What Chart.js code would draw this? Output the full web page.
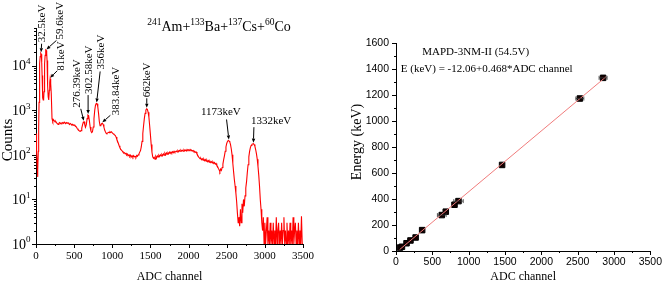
<!DOCTYPE html>
<html>
<head>
<meta charset="utf-8">
<script src="https://cdn.jsdelivr.net/npm/chart.js@4"></script>
<style>
  html, body { margin: 0; padding: 0; background: #fff; }
  #wrap { position: relative; width: 667px; height: 283px; }
  .pane { position: absolute; top: 0; height: 283px; }
</style>
</head>
<body>
<div id="wrap">
  <div class="pane" style="left:0;width:335px"><canvas id="spec"></canvas></div>
  <div class="pane" style="left:335px;width:332px"><canvas id="cal"></canvas></div>
</div>
<script>
// ---- spectrum (left) ----
// channels 0..200, every 5 channels
const lowCounts = [300, 220, 120, 60, 32, 45, 120, 400, 1500, 5000,
  11000, 16000, 18500, 19000, 18000, 12000, 6000, 3000, 1900, 1700,
  1750, 2600, 5500, 11000, 17000, 21000, 22500, 22000, 19000, 13000,
  7000, 3500, 2000, 1700, 1800, 2800, 4200, 5100, 5000, 4000, 2400];
// channels 210..3500, every 10 channels
const counts = [
  650, 560, 610, 580, 545, 560, 520, 500, 480, 510,
  530, 500, 520, 505, 530, 510, 540, 520, 500, 530,
  510, 525, 500, 480, 505, 490, 470, 485, 460, 470,
  450, 440, 420, 390, 370, 360, 340, 335, 350, 400,
  470, 540, 550, 470, 420, 480, 650, 780, 760, 580,
  420, 340, 315, 330, 420, 650, 1000, 1300, 1420, 1400,
  1200, 850, 560, 450, 460, 500, 510, 480, 420, 360,
  330, 305, 300, 310, 320, 315, 330, 320, 330, 310,
  300, 290, 280, 270, 250, 220, 200, 180, 160, 145,
  135, 128, 122, 115, 110, 112, 105, 108, 100, 104,
  96, 100, 92, 98, 90, 95, 88, 96, 90, 92,
  88, 97, 93, 100, 105, 115, 125, 150, 200, 300,
  450, 650, 850, 1000, 1080, 1050, 900, 700, 450, 280,
  170, 115, 90, 84, 88, 80, 92, 85, 95, 90,
  98, 92, 100, 94, 102, 96, 105, 98, 108, 100,
  110, 104, 112, 106, 115, 108, 116, 110, 118, 112,
  120, 114, 118, 122, 116, 124, 118, 126, 120, 128,
  122, 126, 120, 130, 124, 128, 122, 132, 126, 130,
  124, 132, 126, 128, 122, 125, 118, 120, 114, 116,
  105, 98, 90, 86, 82, 84, 78, 82, 76, 80,
  74, 78, 72, 76, 70, 74, 68, 72, 67, 70,
  66, 69, 64, 67, 62, 64, 58, 55, 50, 46,
  42, 48, 45, 52, 62, 78, 95, 120, 150, 180,
  200, 210, 205, 195, 170, 135, 100, 65, 42, 28,
  20, 14, 9, 5, 3, 4, 2.5, 6, 3, 8,
  5, 10, 7, 12, 18, 25, 40, 60, 90, 120,
  145, 162, 172, 176, 178, 170, 155, 130, 105, 80,
  55, 35, 20, 10, 6, 3, 2, 4, 1, 3,
  1, 2, 4, 1, 2, 1, 3, 1, 2, 1,
  3, 1, 2, 1, 4, 1, 2, 3, 1, 2,
  1, 3, 1, 2, 4, 1, 2, 1, 3, 1,
  2, 1, 3, 1, 2, 1, 4, 1, 2, 3,
  1, 2, 1, 3, 1, 2, 1, 4.2, 1, 1];

const peakLabels = ['32.5keV', '59.6keV', '81keV', '276.39keV', '302.58keV',
  '356keV', '383.84keV', '662keV', '1173keV', '1332keV'];
const peakChannels = [67, 137, 187, 626, 683, 795, 870, 1452, 2528, 2850];
const peakCounts = [19000, 22000, 5100, 550, 780, 1420, 510, 1080, 210, 178];

// ---- calibration (right) ----
const calChannels = [55, 82, 145, 199, 270, 360, 630, 685, 805, 860, 1460, 2530, 2850];
const calEnergies = [26.3, 32.5, 59.6, 81, 104, 160.6, 276.4, 302.6, 356, 383.8, 662, 1173, 1332];
const calErrors = [0, 0, 0, 0, 0, 0, 60, 0, 0, 65, 0, 55, 55];
const fitChannels = [50, 2890];
const fitEnergies = [11, 1340];

const SERIF = '"Liberation Serif", "Times New Roman", serif';
const SANS = '"Liberation Sans", Arial, sans-serif';

// label layout: tail/text offsets from arrow tip (px); rot = vertical text
const labelLayout = [
  { tail: [0.5, -8.5], text: [0.5, -10], rot: true },
  { tail: [10, -9], text: [14, -10], rot: true },
  { tail: [7, -7], text: [10.5, -7], rot: true },
  { tail: [-3, -12], text: [-6.5, -13], rot: true },
  { tail: [0, -19], text: [0.7, -20], rot: true },
  { tail: [3.5, -31], text: [4.5, -33], rot: true },
  { tail: [8, -7], text: [14, -7], rot: true },
  { tail: [0, -9.5], text: [0.8, -10.5], rot: true },
  { tail: [-2.3, -20], text: [-8, -27], rot: false },
  { tail: [0.5, -15.5], text: [17.7, -22], rot: false }
];

const spectrum = lowCounts.map((c, i) => ({ x: i * 5, y: c }))
  .concat(counts.map((c, i) => ({ x: 210 + i * 10, y: c })));

function seg(ctx, x1, y1, x2, y2) {
  ctx.beginPath(); ctx.moveTo(x1, y1); ctx.lineTo(x2, y2); ctx.stroke();
}

function arrow(ctx, x1, y1, x2, y2) {
  const ang = Math.atan2(y2 - y1, x2 - x1);
  const L = 4, W = 1.7;
  const bx = x2 - L * Math.cos(ang), by = y2 - L * Math.sin(ang);
  seg(ctx, x1, y1, bx, by);
  ctx.beginPath();
  ctx.moveTo(x2, y2);
  ctx.lineTo(bx + W * Math.sin(ang), by - W * Math.cos(ang));
  ctx.lineTo(bx - W * Math.sin(ang), by + W * Math.cos(ang));
  ctx.closePath(); ctx.fill();
}

const specDecor = {
  id: 'specDecor',
  afterDraw(chart) {
    const { ctx, chartArea: a, scales: { x, y } } = chart;
    ctx.save();
    ctx.strokeStyle = '#000'; ctx.fillStyle = '#000'; ctx.lineWidth = 1;
    // x ticks
    for (let v = 0; v <= 3500; v += 250) {
      const px = Math.round(x.getPixelForValue(v)) + 0.5;
      seg(ctx, px, a.bottom, px, a.bottom + (v % 500 === 0 ? 4 : 2));
    }
    // y ticks, log
    for (let d = 0; d <= 4; d++) {
      for (let m = 1; m <= 9; m++) {
        const v = m * Math.pow(10, d);
        if (v > y.max) break;
        const py = Math.round(y.getPixelForValue(v)) + 0.5;
        seg(ctx, a.left, py, a.left - (m === 1 ? 4 : 2), py);
      }
      const py = y.getPixelForValue(Math.pow(10, d));
      ctx.textBaseline = 'middle';
      ctx.textAlign = 'right';
      ctx.font = '14px ' + SERIF;
      ctx.fillText('10', a.left - 10, py + 1);
      ctx.textAlign = 'left';
      ctx.font = '9px ' + SERIF;
      ctx.fillText(String(d), a.left - 10, py - 4);
    }
    // axis titles
    ctx.font = '12px ' + SERIF;
    ctx.textAlign = 'center'; ctx.textBaseline = 'middle';
    ctx.fillText('ADC channel', (a.left + a.right) / 2, 277);
    ctx.save();
    ctx.font = '15px ' + SERIF;
    ctx.translate(8, (a.top + a.bottom) / 2 + 4);
    ctx.rotate(-Math.PI / 2);
    ctx.fillText('Counts', 0, 0);
    ctx.restore();
    // title with superscripts
    const parts = [['241', 1], ['Am+', 0], ['133', 1], ['Ba+', 0], ['137', 1], ['Cs+', 0], ['60', 1], ['Co', 0]];
    const fN = '14px ' + SERIF, fS = '9.5px ' + SERIF;
    let w = 0;
    parts.forEach(p => { ctx.font = p[1] ? fS : fN; w += ctx.measureText(p[0]).width; });
    let tx = 219 - w / 2;
    ctx.textAlign = 'left'; ctx.textBaseline = 'alphabetic';
    parts.forEach(p => {
      ctx.font = p[1] ? fS : fN;
      ctx.fillText(p[0], tx, p[1] ? 25 : 30.5);
      tx += ctx.measureText(p[0]).width;
    });
    // peak labels
    ctx.font = '11px ' + SERIF;
    peakLabels.forEach((lab, i) => {
      const tipX = x.getPixelForValue(peakChannels[i]);
      const tipY = y.getPixelForValue(peakCounts[i]) - 1;
      const L = labelLayout[i];
      arrow(ctx, tipX + L.tail[0], tipY + L.tail[1], tipX, tipY);
      if (L.rot) {
        ctx.save();
        ctx.translate(tipX + L.text[0], tipY + L.text[1]);
        ctx.rotate(-Math.PI / 2);
        ctx.textAlign = 'left'; ctx.textBaseline = 'middle';
        ctx.fillText(lab, 0, 0);
        ctx.restore();
      } else {
        ctx.textAlign = 'center'; ctx.textBaseline = 'middle';
        ctx.fillText(lab, tipX + L.text[0], tipY + L.text[1]);
      }
    });
    ctx.restore();
  }
};

new Chart(document.getElementById('spec'), {
  type: 'line',
  data: {
    datasets: [{
      data: spectrum,
      borderColor: '#ff0000',
      borderWidth: 1.1,
      pointRadius: 0,
      tension: 0
    }]
  },
  options: {
    responsive: true,
    maintainAspectRatio: false,
    animation: false,
    devicePixelRatio: 1,
    layout: { padding: { top: 28, right: 32, left: 0, bottom: 0 } },
    plugins: { legend: { display: false }, tooltip: { enabled: false } },
    scales: {
      x: {
        type: 'linear', min: 0, max: 3500,
        ticks: { stepSize: 500, color: '#000', padding: 6, maxRotation: 0, autoSkip: false,
          font: { family: SERIF, size: 11 }, callback: v => String(v) },
        grid: { display: false, drawTicks: false },
        border: { display: true, color: '#000', width: 1 },
        afterFit(s) { s.height = 39; }
      },
      y: {
        type: 'logarithmic', min: 1, max: 70000,
        ticks: { display: false },
        grid: { display: false, drawTicks: false },
        border: { display: true, color: '#000', width: 1 },
        afterFit(s) { s.width = 36; }
      }
    }
  },
  plugins: [specDecor]
});

const calDecor = {
  id: 'calDecor',
  afterDatasetsDraw(chart) {
    const { ctx, chartArea: a, scales: { x, y } } = chart;
    ctx.save();
    ctx.strokeStyle = '#000'; ctx.fillStyle = '#000'; ctx.lineWidth = 1;
    for (let v = 0; v <= 3500; v += 250) {
      const px = Math.round(x.getPixelForValue(v)) + 0.5;
      seg(ctx, px, a.bottom, px, a.bottom + (v % 500 === 0 ? 4 : 2));
    }
    for (let v = 0; v <= 1600; v += 100) {
      const py = Math.round(y.getPixelForValue(v)) + 0.5;
      seg(ctx, a.left, py, a.left - (v % 200 === 0 ? 4 : 2), py);
    }
    // horizontal error bars
    ctx.strokeStyle = '#333'; ctx.lineWidth = 0.8;
    calChannels.forEach((c, i) => {
      if (!calErrors[i]) return;
      const py = y.getPixelForValue(calEnergies[i]);
      const x1 = x.getPixelForValue(c - calErrors[i]);
      const x2 = x.getPixelForValue(c + calErrors[i]);
      seg(ctx, x1, py, x2, py);
      seg(ctx, x1, py - 2, x1, py + 2);
      seg(ctx, x2, py - 2, x2, py + 2);
    });
    ctx.fillStyle = '#000';
    ctx.font = '12px ' + SERIF;
    ctx.textAlign = 'center'; ctx.textBaseline = 'middle';
    ctx.fillText('ADC channel', (a.left + a.right) / 2, 277);
    ctx.save();
    ctx.font = '14px ' + SERIF;
    ctx.translate(22, (a.top + a.bottom) / 2 - 5);
    ctx.rotate(-Math.PI / 2);
    ctx.fillText('Energy (keV)', 0, 0);
    ctx.restore();
    ctx.font = '11px ' + SERIF;
    ctx.fillText('MAPD-3NM-II (54.5V)', 140.7, 52);
    ctx.fillText('E (keV) = -12.06+0.468*ADC channel', 151.7, 69);
    ctx.restore();
  }
};

new Chart(document.getElementById('cal'), {
  type: 'scatter',
  data: {
    datasets: [{
      type: 'line',
      data: fitChannels.map((c, i) => ({ x: c, y: fitEnergies[i] })),
      borderColor: '#f07c7c',
      borderWidth: 1,
      pointRadius: 0,
      order: 0
    }, {
      data: calChannels.map((c, i) => ({ x: c, y: calEnergies[i] })),
      pointStyle: 'rect',
      pointRadius: 3.9,
      backgroundColor: '#140000',
      borderColor: '#000',
      borderWidth: 1,
      order: 1
    }]
  },
  options: {
    responsive: true,
    maintainAspectRatio: false,
    animation: false,
    devicePixelRatio: 1,
    layout: { padding: { top: 43, right: 12, left: 0, bottom: 0 } },
    plugins: { legend: { display: false }, tooltip: { enabled: false } },
    scales: {
      x: {
        type: 'linear', min: 0, max: 3500,
        ticks: { stepSize: 500, color: '#000', padding: 5, maxRotation: 0, autoSkip: false,
          font: { family: SANS, size: 10.5 }, callback: v => String(v) },
        grid: { display: false, drawTicks: false },
        border: { display: true, color: '#000', width: 1 },
        afterFit(s) { s.height = 32; }
      },
      y: {
        type: 'linear', min: 0, max: 1600,
        ticks: { stepSize: 200, color: '#000', padding: 7,
          font: { family: SANS, size: 10.5 }, callback: v => String(v) },
        grid: { display: false, drawTicks: false },
        border: { display: true, color: '#000', width: 1 },
        afterFit(s) { s.width = 61; }
      }
    }
  },
  plugins: [calDecor]
});
</script>
</body>
</html>
